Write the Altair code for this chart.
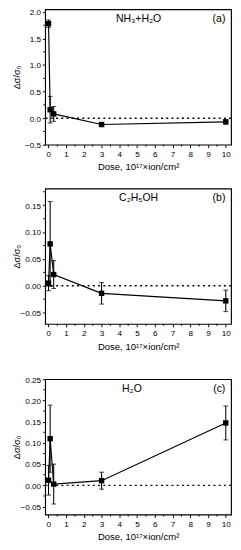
import altair as alt
import pandas as pd

dose = [0.01, 0.1, 0.3, 3, 10]

val_a = [1.78, 0.16, 0.08, -0.12, -0.07]
err_a = [0.07, 0.25, 0.14, 0.02, 0.04]

val_b = [0.005, 0.078, 0.021, -0.014, -0.028]
err_b = [0.014, 0.079, 0.026, 0.020, 0.020]

val_c = [0.012, 0.110, 0.003, 0.011, 0.147]
err_c = [0.035, 0.079, 0.047, 0.020, 0.040]

labels = ["NH₃+H₂O", "C₂H₅OH", "H₂O"]
tags = ["(a)", "(b)", "(c)"]

ydom_a = [-0.5, 2.05]
ydom_b = [-0.071, 0.181]
ydom_c = [-0.069, 0.25]

yticks_a = [-0.5, 0.0, 0.5, 1.0, 1.5, 2.0]
yticks_b = [-0.05, 0.0, 0.05, 0.10, 0.15]
yticks_c = [-0.05, 0.0, 0.05, 0.10, 0.15, 0.20, 0.25]

yminor_a = [-0.25, 0.25, 0.75, 1.25, 1.75]
yminor_b = [-0.025, 0.025, 0.075, 0.125, 0.175]
yminor_c = [-0.025, 0.025, 0.075, 0.125, 0.175, 0.225]

xticks = list(range(0, 11))
xminor = [0.5 + i for i in range(10)]
xdom = [-0.18, 10.3]

FONT = "Liberation Sans"
W, H = 195, 142
XTITLE = "Dose, 10¹⁷×ion/cm²"
YTITLE = "Δσ/σ₀"


def panel(vals, errs, ydom, yticks, yminor, yfmt, label, tag, label_x):
    df = pd.DataFrame({
        "dose": dose,
        "v": vals,
        "lo": [v - e for v, e in zip(vals, errs)],
        "hi": [v + e for v, e in zip(vals, errs)],
    })
    xs = alt.Scale(domain=xdom, nice=False, zero=False)
    ys = alt.Scale(domain=ydom, nice=False, zero=False)
    xax = alt.Axis(values=xticks, title=XTITLE, format="d",
                   tickSize=3, labelFontSize=8.5, titleFontSize=10,
                   titleFontWeight="normal", labelFont=FONT, titleFont=FONT,
                   grid=False, domain=False, titlePadding=5, labelPadding=2)
    yax = alt.Axis(values=yticks, title=YTITLE, format=yfmt, tickSize=3,
                   labelFontSize=8.5, titleFontSize=9.5, titleFontWeight="normal",
                   labelFont=FONT, titleFont=FONT, grid=False, domain=False,
                   labelPadding=2, titleX=-25, titleY=H / 2)
    X = lambda f: alt.X(f, scale=xs, axis=xax, title=XTITLE)
    Y = lambda f: alt.Y(f, scale=ys, axis=yax, title=YTITLE)
    base = alt.Chart(df)
    zero = alt.Chart(pd.DataFrame({"z": [0.0]})).mark_rule(
        color="black", strokeDash=[2, 3.5], strokeWidth=1.5
    ).encode(y=Y("z:Q"))
    err = base.mark_errorbar(ticks=alt.TickConfig(size=5, thickness=1.1, color="black"),
                             color="black", thickness=1.1).encode(
        x=X("dose:Q"), y=Y("lo:Q"), y2="hi:Q")
    line = base.mark_line(color="black", strokeWidth=1.2).encode(
        x=X("dose:Q"), y=Y("v:Q"))
    pts = base.mark_square(color="black", size=32, opacity=1).encode(
        x=X("dose:Q"), y=Y("v:Q"))
    t1 = alt.Chart(pd.DataFrame({"t": [label]})).mark_text(
        font=FONT, fontSize=11, align="center", baseline="middle", color="black"
    ).encode(text="t:N", x=alt.value(label_x), y=alt.value(10))
    t2 = alt.Chart(pd.DataFrame({"t": [tag]})).mark_text(
        font=FONT, fontSize=11, align="right", baseline="middle", color="black"
    ).encode(text="t:N", x=alt.value(189), y=alt.value(10))
    ymin = alt.Chart(pd.DataFrame({"m": yminor})).mark_rule(
        color="black", strokeWidth=1).encode(
        y=Y("m:Q"), x=alt.value(-2), x2=alt.value(0))
    xmin = alt.Chart(pd.DataFrame({"m": xminor})).mark_rule(
        color="black", strokeWidth=1).encode(
        x=X("m:Q"), y=alt.value(H), y2=alt.value(H + 2))
    return alt.layer(zero, err, line, pts, t1, t2, ymin, xmin).properties(
        width=W, height=H, view=alt.ViewConfig(stroke="black", strokeWidth=1.2))


def spacer(h):
    return alt.Chart(pd.DataFrame({"s": [0]})).mark_point(opacity=0).encode(
        x=alt.X("s:Q", axis=None), y=alt.Y("s:Q", axis=None)
    ).properties(width=W, height=h, view=alt.ViewConfig(stroke="transparent"))


pa = panel(val_a, err_a, ydom_a, yticks_a, yminor_a, ".1f", labels[0], tags[0], 98)
pb = panel(val_b, err_b, ydom_b, yticks_b, yminor_b, ".2f", labels[1], tags[1], 98)
pc = panel(val_c, err_c, ydom_c, yticks_c, yminor_c, ".2f", labels[2], tags[2], 91)

chart = alt.vconcat(
    pa, spacer(1), pb, spacer(13), pc, spacing=22.5, bounds="flush"
).configure_axis(
    tickColor="black", labelColor="black", titleColor="black", tickWidth=1
).properties(padding={"left": 3, "top": -14, "right": 0, "bottom": 0})

chart.save("out.html", embed_options={"renderer": "svg", "actions": False})
